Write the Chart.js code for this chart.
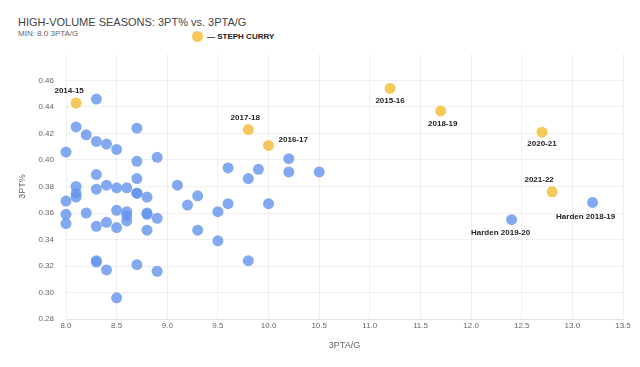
<!DOCTYPE html>
<html>
<head>
<meta charset="utf-8">
<script src="https://cdn.jsdelivr.net/npm/chart.js@4"></script>
<style>
  html, body { margin: 0; padding: 0; background: #fff; }
  #wrap { position: relative; width: 640px; height: 367px; font-family: "Liberation Sans", Arial, sans-serif; }
  #title { position: absolute; left: 18px; top: 16px; font-size: 11px; color: #444; white-space: nowrap; }
  #subtitle { position: absolute; left: 18px; top: 29px; font-size: 8px; color: #666; white-space: nowrap; }
  #legend { position: absolute; left: 192px; top: 31px; font-size: 8px; font-weight: bold; color: #222; white-space: nowrap; }
  #legend .dot { display: inline-block; width: 11px; height: 11px; border-radius: 50%; background: rgba(244,190,60,0.85); vertical-align: middle; margin-right: 4px; }
  #legend span { vertical-align: middle; }
  canvas { position: absolute; left: 0; top: 0; }
</style>
</head>
<body>
<div id="wrap">
  <div id="title">HIGH-VOLUME SEASONS: 3PT% vs. 3PTA/G</div>
  <div id="subtitle">MIN: 8.0 3PTA/G</div>
  <div id="legend"><i class="dot"></i><span>— STEPH CURRY</span></div>
  <canvas id="chart" width="640" height="367"></canvas>
</div>
<script>
// other high-volume seasons
const otherX = [8.3, 8.1, 8.2, 8.3, 8.4, 8.5, 8.7, 8.0, 8.7, 8.9,
                8.3, 8.7, 8.1, 8.1, 8.1, 8.3, 8.4, 8.5, 8.6, 8.7,
                8.7, 8.8, 9.1, 9.3, 9.2, 8.0, 8.0, 8.0, 8.2, 8.3,
                8.4, 8.5, 8.5, 8.6, 8.6, 8.6, 8.8, 8.8, 8.9, 8.8,
                9.5, 9.5, 9.3, 8.3, 8.3, 8.4, 8.7, 8.9, 8.5, 9.6,
                9.9, 10.2, 10.2, 10.5, 9.8, 9.6, 10.0, 9.8];
const otherY = [0.446, 0.425, 0.419, 0.414, 0.412, 0.408, 0.424, 0.406, 0.399, 0.402,
                0.389, 0.386, 0.380, 0.375, 0.372, 0.378, 0.381, 0.379, 0.379, 0.375,
                0.375, 0.372, 0.381, 0.373, 0.366, 0.369, 0.359, 0.352, 0.360, 0.350,
                0.353, 0.362, 0.349, 0.361, 0.358, 0.354, 0.360, 0.359, 0.356, 0.347,
                0.361, 0.339, 0.347, 0.323, 0.324, 0.317, 0.321, 0.316, 0.296, 0.394,
                0.393, 0.401, 0.391, 0.391, 0.386, 0.367, 0.367, 0.324];

// James Harden
const hardenLabels = ['Harden 2018-19', 'Harden 2019-20'];
const hardenX = [13.2, 12.4];
const hardenY = [0.368, 0.355];

// Steph Curry
const curryLabels = ['2014-15', '2015-16', '2016-17', '2017-18', '2018-19', '2020-21', '2021-22'];
const curryX = [8.1, 11.2, 10.0, 9.8, 11.7, 12.7, 12.8];
const curryY = [0.443, 0.454, 0.411, 0.423, 0.437, 0.421, 0.376];

// axis ticks
const xTicks = [8.0, 8.5, 9.0, 9.5, 10.0, 10.5, 11.0, 11.5, 12.0, 12.5, 13.0, 13.5];
const yTicks = [0.28, 0.30, 0.32, 0.34, 0.36, 0.38, 0.40, 0.42, 0.44, 0.46];

// label placement (pixel offsets from point, style only)
const labelOffsets = {
    '2014-15': [-7, -12, 'center'],
    '2015-16': [0, 12, 'center'],
    '2016-17': [10, -6, 'left'],
    '2017-18': [-3, -12, 'center'],
    '2018-19': [2, 13, 'center'],
    '2020-21': [0, 12, 'center'],
    '2021-22': [-13, -12, 'center'],
    'Harden 2018-19': [-7, 14, 'center'],
    'Harden 2019-20': [-11, 13, 'center']
};

function toPoints(xs, ys) {
    return xs.map((x, i) => ({ x: x, y: ys[i] }));
}

const blue = 'rgba(100,149,237,0.8)';
const gold = 'rgba(244,190,60,0.85)';
const gridColor = 'rgba(0,0,0,0.06)';
const radius = 5.5;

const pointLabels = {
    id: 'pointLabels',
    afterDatasetsDraw(chart) {
        const ctx = chart.ctx;
        ctx.save();
        ctx.font = 'bold 8px "Liberation Sans", Arial, sans-serif';
        ctx.fillStyle = '#222';
        ctx.textBaseline = 'middle';
        chart.data.datasets.forEach((ds, di) => {
            if (!ds.pointNames) return;
            const meta = chart.getDatasetMeta(di);
            meta.data.forEach((pt, i) => {
                const name = ds.pointNames[i];
                const off = labelOffsets[name] || [0, -12, 'center'];
                ctx.textAlign = off[2];
                ctx.fillText(name, pt.x + off[0], pt.y + off[1]);
            });
        });
        ctx.restore();
    }
};

new Chart(document.getElementById('chart'), {
    type: 'scatter',
    data: {
        datasets: [
            { label: 'Other', data: toPoints(otherX, otherY), backgroundColor: blue, borderWidth: 0, pointRadius: radius, pointHoverRadius: radius, clip: false },
            { label: 'Harden', data: toPoints(hardenX, hardenY), pointNames: hardenLabels, backgroundColor: blue, borderWidth: 0, pointRadius: radius, pointHoverRadius: radius, clip: false },
            { label: 'Steph Curry', data: toPoints(curryX, curryY), pointNames: curryLabels, backgroundColor: gold, borderWidth: 0, pointRadius: radius, pointHoverRadius: radius, clip: false }
        ]
    },
    options: {
        responsive: false,
        animation: false,
        layout: { padding: { left: 13, right: 17, top: 54, bottom: 12 } },
        plugins: {
            legend: { display: false },
            tooltip: { enabled: false }
        },
        scales: {
            x: {
                type: 'linear',
                min: xTicks[0],
                max: xTicks[xTicks.length - 1],
                afterBuildTicks: (s) => { s.ticks = xTicks.map(v => ({ value: v })); },
                afterFit: (s) => { s.height = 36; },
                ticks: {
                    padding: 2,
                    color: '#666',
                    font: { size: 8, family: '"Liberation Sans", Arial, sans-serif' },
                    callback: (v) => v.toFixed(1)
                },
                grid: { color: gridColor, drawTicks: false },
                border: { color: gridColor },
                title: { display: true, text: '3PTA/G', color: '#666', font: { size: 9, family: '"Liberation Sans", Arial, sans-serif' } }
            },
            y: {
                type: 'linear',
                min: 0.28,
                max: 0.48,
                afterBuildTicks: (s) => { s.ticks = yTicks.map(v => ({ value: v })); },
                afterFit: (s) => { s.width = 53; },
                ticks: {
                    padding: 12,
                    color: '#666',
                    font: { size: 8, family: '"Liberation Sans", Arial, sans-serif' },
                    callback: (v) => v.toFixed(2)
                },
                grid: { color: gridColor, drawTicks: false },
                border: { display: false },
                title: { display: true, text: '3PT%', color: '#666', font: { size: 9, family: '"Liberation Sans", Arial, sans-serif' } }
            }
        }
    },
    plugins: [pointLabels]
});
</script>
</body>
</html>
